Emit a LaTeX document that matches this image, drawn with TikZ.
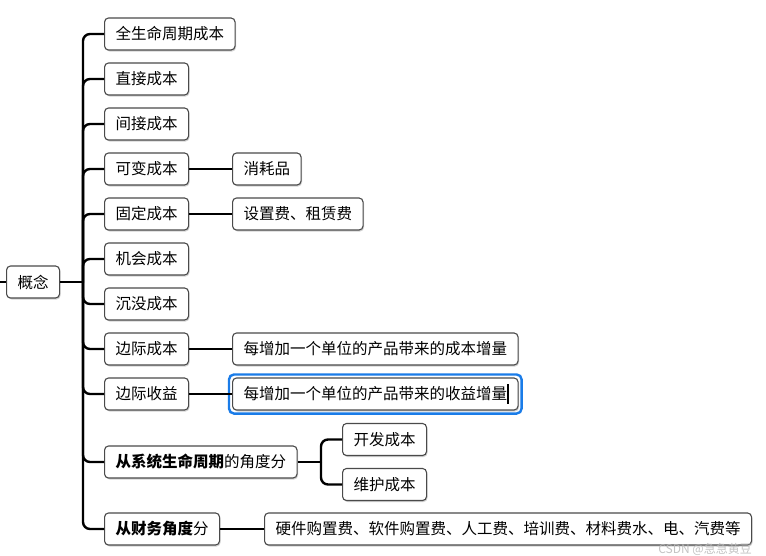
\documentclass[tikz,border=0pt]{standalone}
\usepackage{fontspec}
\setmainfont{Noto Sans CJK SC}
\usetikzlibrary{shadows,calc}
\definecolor{boxgray}{HTML}{4A4A4A}
\definecolor{selblue}{HTML}{1A7CE8}
\begin{document}
\begin{tikzpicture}[x=1pt,y=-1pt,
  box/.style={draw=boxgray, line width=1.1pt, rounded corners=4pt, fill=white,
    minimum height=32pt, inner xsep=11pt, inner ysep=0pt, anchor=west,
    font=\fontsize{15.5}{18}\selectfont,
    drop shadow={shadow xshift=1pt, shadow yshift=-1.5pt, opacity=0.35}},
  conn/.style={line width=2.4pt, rounded corners=7pt}]
\useasboundingbox (0,0) rectangle (766,555);
\fill[white] (0,0) rectangle (766,555);

% root
\coordinate (stub) at (0,282);
\node[box] (root) at (6,282) {概念};
\coordinate (trunk) at (83,282);
\coordinate (fork) at (321,462);

% level 1
\node[box] (a1) at (104,34) {全生命周期成本};
\node[box] (a2) at (104,79) {直接成本};
\node[box] (a3) at (104,124) {间接成本};
\node[box] (a4) at (104,169) {可变成本};
\node[box] (a5) at (104,214) {固定成本};
\node[box] (a6) at (104,259) {机会成本};
\node[box] (a7) at (104,304) {沉没成本};
\node[box] (a8) at (104,349) {边际成本};
\node[box] (a9) at (104,394) {边际收益};
\node[box] (a10) at (104,462) {\textbf{从系统生命周期}的角度分};
\node[box] (a11) at (104,529) {\textbf{从财务角度}分};

% level 2
\node[box] (b4) at (232,169) {消耗品};
\node[box] (b5) at (232,214) {设置费、租赁费};
\node[box] (b8) at (232,349) {每增加一个单位的产品带来的成本增量};
\node[box] (b9) at (232,394) {每增加一个单位的产品带来的收益增量\hspace{2pt}};
\node[box] (b10a) at (342,439.5) {开发成本};
\node[box] (b10b) at (342,484.5) {维护成本};
\node[box] (b11) at (264,529) {硬件购置费、软件购置费、人工费、培训费、材料费水、电、汽费等};

% selection outline and caret
\draw[selblue, line width=2.4pt, rounded corners=5pt]
  ($(b9.north west)+(-3,-3)$) rectangle ($(b9.south east)+(3,3)$);
\draw[black, line width=1.2pt] (508,384) -- (508,404);

% connectors
\draw[line width=2.4pt] (stub) -- (root.west);
\draw[line width=2.4pt] (root.east) -- (trunk);
\foreach \c in {a1,a2,a3,a4,a5,a6,a7,a8,a9,a10,a11}
  \draw[conn] (trunk) |- (\c.west);
\draw[conn] (a4.east) -- (b4.west);
\draw[conn] (a5.east) -- (b5.west);
\draw[conn] (a8.east) -- (b8.west);
\draw[conn] (a9.east) -- (b9.west);
\draw[line width=2.4pt] (a10.east) -- (fork);
\draw[conn] (fork) |- (b10a.west);
\draw[conn] (fork) |- (b10b.west);
\draw[conn] (a11.east) -- (b11.west);

% watermark
\node[anchor=east, text=gray!55, opacity=0.85, inner sep=0pt, font=\fontsize{12}{13}\selectfont] (wm) at (752,549) {CSDN @急急黄豆};
\end{tikzpicture}
\end{document}
